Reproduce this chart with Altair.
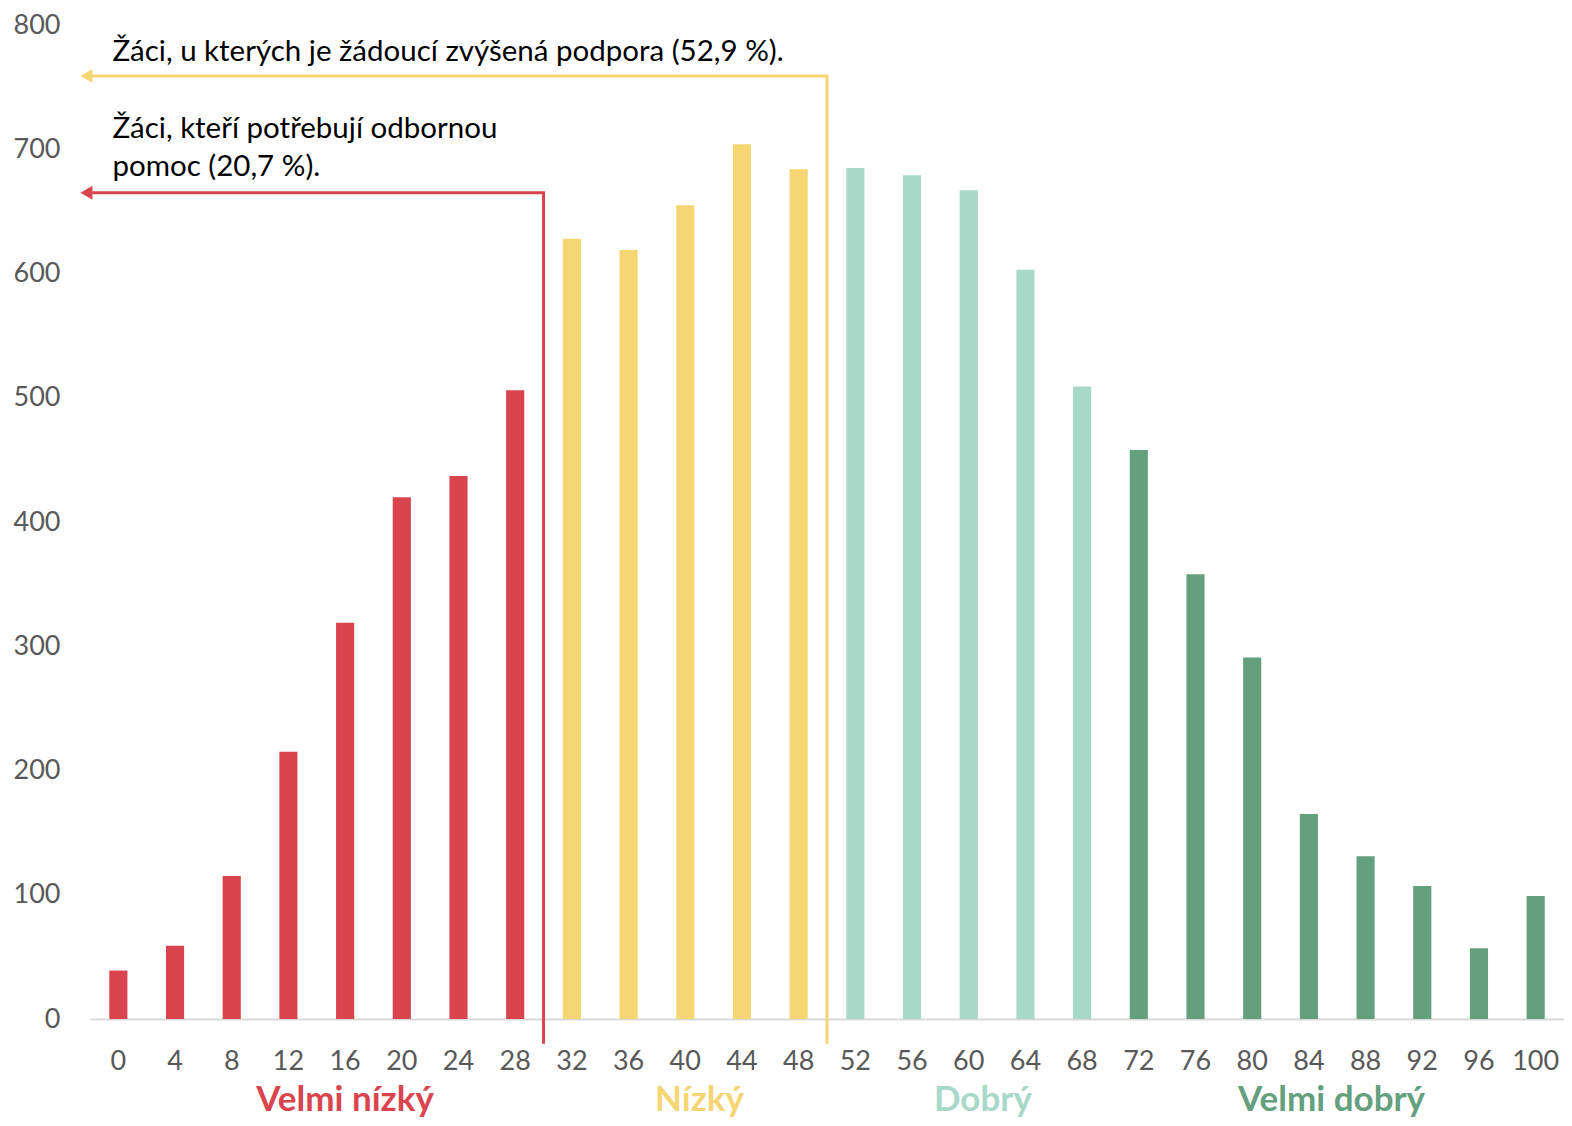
import altair as alt
import pandas as pd

# ---- data ----
scores = list(range(0, 101, 4))
counts = [39, 59, 115, 215, 319, 420, 437, 506, 628, 619, 655, 704, 684,
          685, 679, 667, 603, 509, 458, 358, 291, 165, 131, 107, 57, 99]
levels = (["Velmi nízký"] * 8 + ["Nízký"] * 5 + ["Dobrý"] * 5 + ["Velmi dobrý"] * 8)

level_names = ["Velmi nízký", "Nízký", "Dobrý", "Velmi dobrý"]
level_colors = ["#D9444F", "#F6D673", "#A8D8C7", "#64A07E"]
level_label_x = [16, 41, 61, 85.6]
level_label_y = -65

y_ticks = list(range(0, 801, 100))

# annotations (data coordinates: score on x, count on y)
help_cut = 30          # red threshold between 28 and 32
support_cut = 50       # yellow threshold between 48 and 52
help_level = 665
support_level = 759
line_bottom = -20
arrow_x = -2.25
text_x = -0.42
ann_texts = ["Žáci, u kterých je žádoucí zvýšená podpora (52,9 %).",
             "Žáci, kteří potřebují odbornou",
             "pomoc (20,7 %)."]
ann_text_y = [778, 716, 686]

RED, YELLOW = level_colors[0], level_colors[1]
GRAY = "#595959"
FONT = "Lato"

df = pd.DataFrame({"score": scores, "count": counts, "level": levels})

XQ = alt.Scale(domain=[-2, 102], nice=False, zero=False)
YQ = alt.Scale(domain=[0, 800], nice=False, zero=False)

bars = alt.Chart(df).mark_bar().encode(
    x=alt.X("score:O", sort=scores,
            scale=alt.Scale(paddingInner=0.68, paddingOuter=0.34),
            axis=alt.Axis(title=None, labelAngle=0, ticks=False, grid=False,
                          domainColor="#D9D9D9", domainWidth=2,
                          labelFontSize=27, labelColor=GRAY, labelFont=FONT,
                          labelPadding=29)),
    y=alt.Y("count:Q", scale=YQ,
            axis=alt.Axis(title=None, values=y_ticks, domain=False, ticks=False,
                          grid=False, labelFontSize=27, labelColor=GRAY,
                          labelFont=FONT, labelPadding=30)),
    color=alt.Color("level:N", scale=alt.Scale(domain=level_names, range=level_colors),
                    legend=None),
)

def path_layer(cut, level, color):
    d = pd.DataFrame({"x": [arrow_x, cut, cut],
                      "y": [level, level, line_bottom],
                      "o": [0, 1, 2]})
    line = alt.Chart(d).mark_line(strokeWidth=3, color=color, strokeJoin="miter").encode(
        x=alt.X("x:Q", scale=XQ, axis=None),
        y=alt.Y("y:Q", scale=YQ, axis=None),
        order="o:Q",
    )
    head = alt.Chart(pd.DataFrame({"x": [arrow_x], "y": [level]})).mark_point(
        shape="triangle-left", filled=True, size=190, opacity=1, color=color
    ).encode(
        x=alt.X("x:Q", scale=XQ, axis=None),
        y=alt.Y("y:Q", scale=YQ, axis=None),
    )
    return line, head

red_line, red_head = path_layer(help_cut, help_level, RED)
yel_line, yel_head = path_layer(support_cut, support_level, YELLOW)

ann = alt.Chart(pd.DataFrame({"x": [text_x] * 3, "y": ann_text_y, "t": ann_texts})).mark_text(
    align="left", baseline="middle", fontSize=29.5, font=FONT, color="#000000"
).encode(
    x=alt.X("x:Q", scale=XQ, axis=None),
    y=alt.Y("y:Q", scale=YQ, axis=None),
    text="t:N",
)

cat_labels = alt.Chart(pd.DataFrame({"x": level_label_x,
                                     "y": [level_label_y] * 4,
                                     "t": level_names})).mark_text(
    align="center", baseline="middle", fontSize=35, font=FONT, fontWeight="bold"
).encode(
    x=alt.X("x:Q", scale=XQ, axis=None),
    y=alt.Y("y:Q", scale=YQ, axis=None),
    text="t:N",
    color=alt.Color("t:N", scale=alt.Scale(domain=level_names, range=level_colors),
                    legend=None),
)

chart = alt.layer(
    bars, red_line, yel_line, red_head, yel_head, ann, cat_labels
).resolve_scale(
    x="independent", y="independent", color="independent"
).properties(
    width=1474, height=994,
    autosize=alt.AutoSizeParams(type="none"),
    padding={"left": 82, "top": 17, "right": 0, "bottom": 99},
).configure(font=FONT).configure_view(strokeWidth=0)

chart.save("out.html", embed_options={"renderer": "svg", "actions": False})
